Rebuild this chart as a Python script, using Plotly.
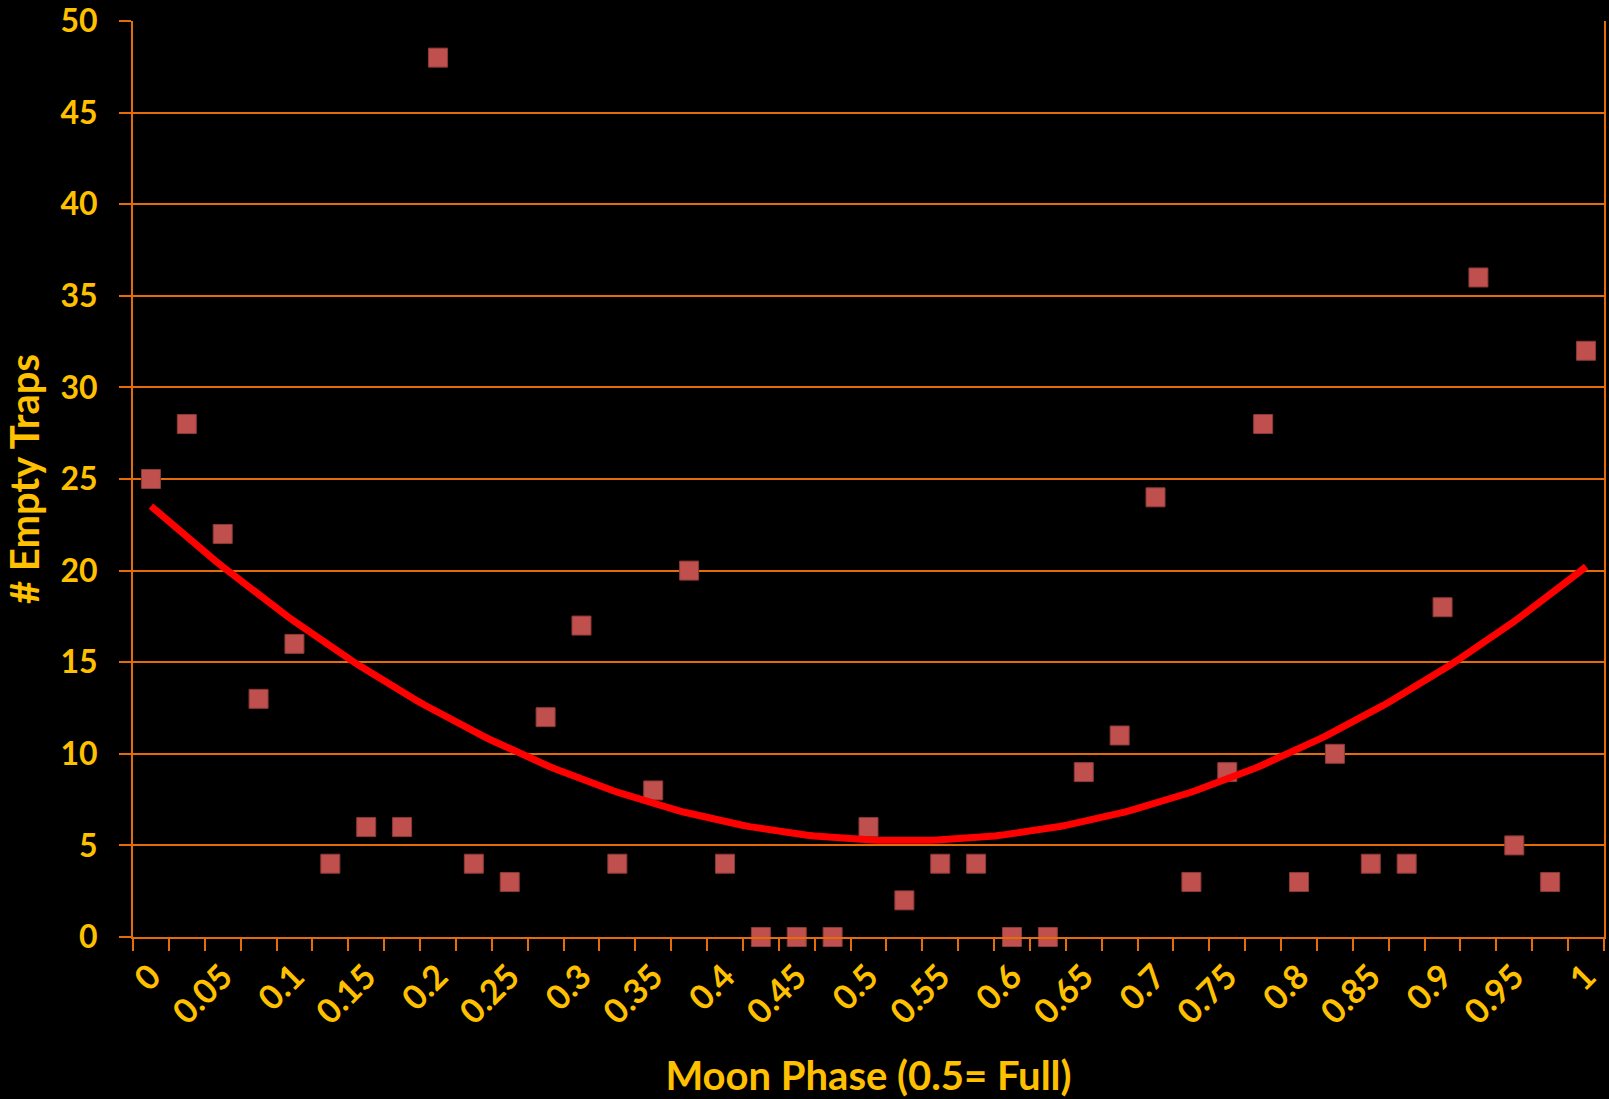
import numpy as np
import plotly.graph_objects as go

# Moon phase categories (0.5 = full moon)
phases = [0.0, 0.025, 0.05, 0.075, 0.1, 0.125, 0.15, 0.175, 0.2, 0.225,
          0.25, 0.275, 0.3, 0.325, 0.35, 0.375, 0.4, 0.425, 0.45, 0.475,
          0.5, 0.525, 0.55, 0.575, 0.6, 0.625, 0.65, 0.675, 0.7, 0.725,
          0.75, 0.775, 0.8, 0.825, 0.85, 0.875, 0.9, 0.925, 0.95, 0.975, 1.0]

# Number of empty traps per phase
empty_traps = [25, 28, 22, 13, 16, 4, 6, 6, 48, 4,
               3, 12, 17, 4, 8, 20, 4, 0, 0, 0,
               6, 2, 4, 4, 0, 0, 9, 11, 24, 3,
               9, 28, 3, 10, 4, 4, 18, 36, 5, 3, 32]

# Axis tick labels
x_tick_vals = [0.0, 0.05, 0.1, 0.15, 0.2, 0.25, 0.3, 0.35, 0.4, 0.45, 0.5,
               0.55, 0.6, 0.65, 0.7, 0.75, 0.8, 0.85, 0.9, 0.95, 1.0]
x_tick_text = ["0", "0.05", "0.1", "0.15", "0.2", "0.25", "0.3", "0.35", "0.4",
               "0.45", "0.5", "0.55", "0.6", "0.65", "0.7", "0.75", "0.8",
               "0.85", "0.9", "0.95", "1"]

ORANGE = "#E46C0A"
GOLD = "#FFC000"
FONT = "Lato"

# Polynomial (order 2) trendline, as in the original spreadsheet chart
coef = np.polyfit(phases, empty_traps, 2)
trend_x = np.linspace(phases[0], phases[-1], 200)
trend_y = np.polyval(coef, trend_x)

fig = go.Figure()
fig.add_trace(go.Scatter(
    x=phases, y=empty_traps, mode="markers",
    marker=dict(symbol="square", size=19, color="#C0504D",
                line=dict(color="#8C3A37", width=1)),
    showlegend=False, cliponaxis=False,
))
fig.add_trace(go.Scatter(
    x=trend_x, y=trend_y, mode="lines",
    line=dict(color="#FF0000", width=7),
    showlegend=False, hoverinfo="skip",
))

fig.update_layout(
    width=1609, height=1099,
    paper_bgcolor="black", plot_bgcolor="black",
    margin=dict(l=133, r=5, t=21, b=162),
    font=dict(family=FONT, color=GOLD, size=32, weight=700),
    showlegend=False,
)
fig.update_xaxes(
    range=[-0.0125, 1.0125],
    tickmode="array", tickvals=x_tick_vals, ticktext=x_tick_text,
    tickangle=-45, ticks="", showgrid=False, zeroline=False,
    showline=True, linecolor=ORANGE, linewidth=2,
    tickfont=dict(family=FONT, color=GOLD, size=34, weight=700),
    ticklabelstandoff=4, ticklabeloverflow="allow",
    minor=dict(ticks="outside", tick0=-0.0125, dtick=0.025, ticklen=12,
               tickwidth=2, tickcolor=ORANGE, showgrid=False),
    title=dict(text="Moon Phase (0.5= Full)",
               font=dict(family=FONT, color=GOLD, size=40, weight=700),
               standoff=36),
    automargin=False,
)
fig.update_yaxes(
    range=[0, 50], dtick=5, tick0=0,
    showgrid=True, gridcolor=ORANGE, gridwidth=2, zeroline=False,
    showline=True, linecolor=ORANGE, linewidth=2, mirror=True,
    ticks="outside", ticklen=12, tickwidth=2, tickcolor=ORANGE,
    tickfont=dict(family=FONT, color=GOLD, size=32, weight=700),
    ticklabelstandoff=15, ticklabeloverflow="allow",
    title=dict(text="# Empty Traps",
               font=dict(family=FONT, color=GOLD, size=40, weight=700),
               standoff=10),
    automargin=False,
)

fig.write_html(
    "out.html",
    config={"displayModeBar": False},
    post_script="document.body.style.margin='0';document.body.style.background='black';",
)
